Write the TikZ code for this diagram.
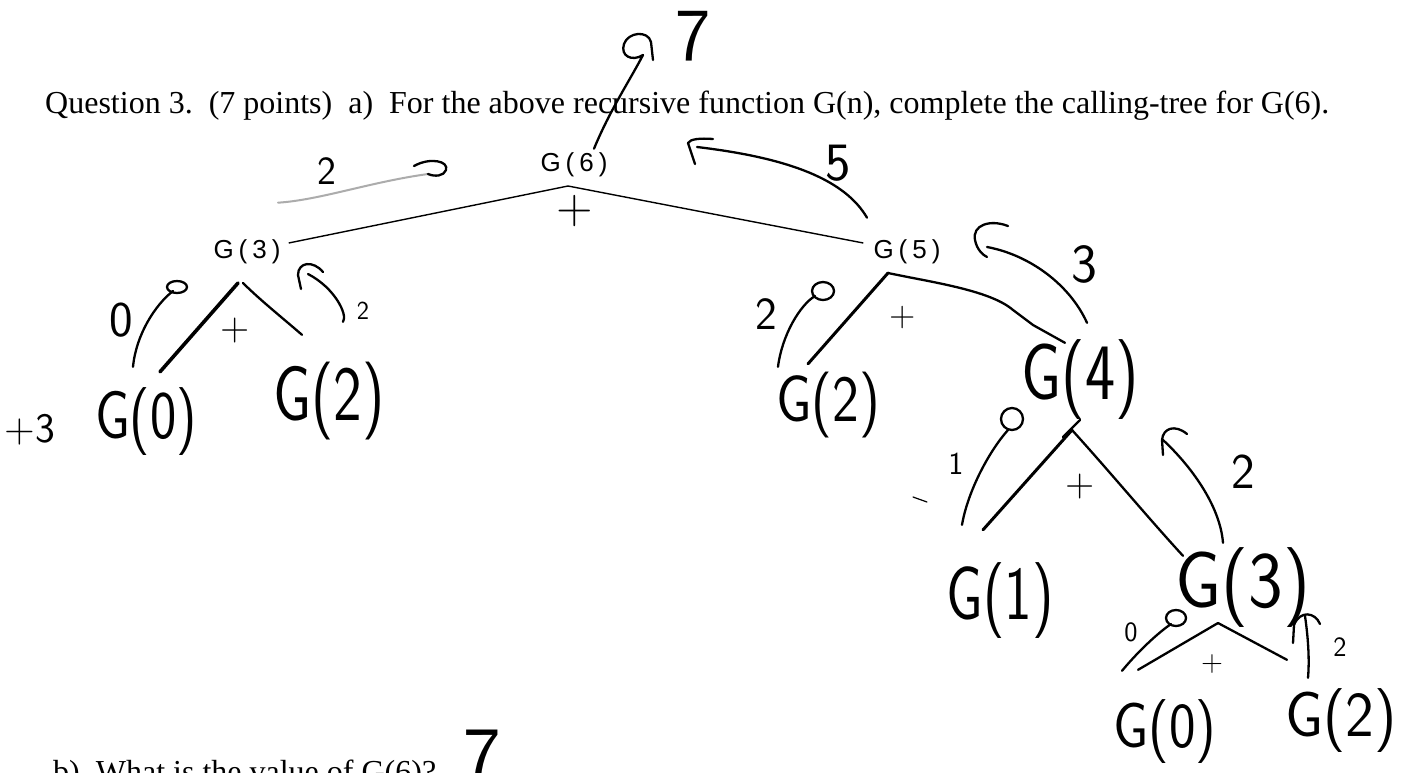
\documentclass[tikz,border=0pt]{standalone}
\usepackage{fontspec}
\setmainfont{Liberation Serif}
\newfontfamily\labfont{Liberation Sans}
\newcommand\hsz[1]{\fontsize{#1}{#1}\selectfont}
\newcommand\handw[3]{\scalebox{#2}[1]{\hsz{#1}#3}}
\newcommand\glab[1]{G\kern5pt(\kern5pt#1\kern5pt)}
\begin{document}
\begin{tikzpicture}[x=1pt,y=-1pt,
  hw/.style={inner sep=0pt, font=\sffamily},
  pl/.style={inner sep=0pt, font=\labfont\hsz{26}},
  ink/.style={line width=2.3pt, line cap=round, line join=round},
  thickink/.style={line width=3.6pt, line cap=round},
  prline/.style={line width=1.4pt},
  faint/.style={line width=2pt, gray!65, line cap=round},
  txt/.style={inner sep=0pt, anchor=base west, font=\hsz{32}}
]
\useasboundingbox (0,0) rectangle (1413,772);
\fill[white] (0,0) rectangle (1413,772);
\clip (0,0) rectangle (1413,772);

% printed text
\node[txt] (title) at (45,113) {Question 3.\ \ (7 points)\ \ a)\ \ For the above recursive function G(n), complete the calling-tree for G(6).};
\node[txt] (qb) at (53,782) {b)\ \ What is the value of G(6)?};

% printed tree
\node[pl] (g6) at (574,165) {\glab{6}};
\node[pl] (g3) at (247,252) {\glab{3}};
\node[pl] (g5) at (907,252) {\glab{5}};
\coordinate (t6) at (568,186);
\draw[prline] ([shift={(8,-9)}]g3.east) -- (t6) -- ([shift={(-10,-9)}]g5.west);

% handwritten labels
\node[hw] (h7) at (693,36) {\hsz{75}7};
\node[hw] (hp6) at (575,211) {\hsz{50}+};
\node[hw] (h2a) at (327,171) {\hsz{40}2};
\node[hw] (h5) at (838,163) {\hsz{54}5};
\node[hw] (h0a) at (121,320) {\hsz{50}0};
\node[hw] (hp3) at (235,331) {\hsz{40}+};
\node[hw] (h2b) at (363,311) {\hsz{26}2};
\node[hw] (hp3n) at (30,430) {\hsz{42}+3};
\node[hw] (G0a) at (146,422) {\handw{68}{0.82}{G(0)}};
\node[hw] (G2a) at (329,401) {\handw{78}{0.78}{G(2)}};
\node[hw] (h2c) at (766,314) {\hsz{46}2};
\node[hw] (hp5) at (903,318) {\hsz{36}+};
\node[hw] (h3) at (1084,264) {\hsz{55}3};
\node[hw] (G2m) at (828,405) {\handw{66}{0.86}{G(2)}};
\node[hw] (G4) at (1080,380) {\handw{80}{0.8}{G(4)}};
\node[hw] (h1) at (956,464) {\hsz{32}1};
\node[hw] (hp4) at (1080,487) {\hsz{40}+};
\node[hw] (h2d) at (1243,472) {\hsz{50}2};
\node[hw] (G1) at (1000,601) {\handw{76}{0.77}{G(1)}};
\node[hw] (G3) at (1243,588) {\handw{80}{0.92}{G(3)}};
\node[hw] (h0b) at (1131,632) {\hsz{28}0};
\node[hw] (hp3b) at (1212,664) {\hsz{30}+};
\node[hw] (h2e) at (1340,647) {\hsz{28}2};
\node[hw] (G0b) at (1165,732) {\handw{64}{0.88}{G(0)}};
\node[hw] (G2b) at (1341,721) {\handw{64}{0.95}{G(2)}};
\node[hw] (h7b) at (482,757) {\hsz{80}7};

% handwritten tree branches
\coordinate (t3) at (238,283);
\draw[thickink] (t3) -- ([shift={(14,-16)}]G0a.north);
\draw[ink] ([shift={(5,0)}]t3) .. controls (260,300) and (285,320) .. ([shift={(-27,-27)}]G2a.north);
\coordinate (t5) at (888,273);
\draw[thickink, line width=3pt] (t5) -- ([shift={(-20,-8)}]G2m.north);
\draw[ink] (t5) .. controls (930,282) and (990,290) .. (1013,310) -- (1033,325) -- ([shift={(-15,3)}]G4.north);
\coordinate (t4) at (1072,430);
\draw[thickink, line width=3pt] (t4) -- ([shift={(-17,-33)}]G1.north);
\draw[ink] (t4) .. controls (1110,472) and (1150,520) .. ([shift={(-60,8)}]G3.north);
\draw[ink] (1063,437) -- (1080,420);
\coordinate (t3b) at (1218,623);
\draw[ink] (t3b) -- ([shift={(-27,-30)}]G0b.north);
\draw[ink] (t3b) -- ([shift={(-54,-29)}]G2b.north);

% return-value arrows
\coordinate (r6) at (643,55);
\draw[ink] ([shift={(20,-4)}]g6.north) .. controls (610,110) and (630,80) .. (r6)
  .. controls (632,62) and (620,56) .. (624,44) .. controls (628,32) and (648,30) .. (651,42) -- (653,60);
\coordinate (r5) at (697,147);
\draw[ink] ([shift={(-40,-22)}]g5.north) .. controls (845,180) and (790,158) .. (r5);
\draw[ink] (713,139) .. controls (700,138) and (690,139) .. (688,143) -- (695,164);
\coordinate (r2a) at (428,174);
\draw[faint] ([shift={(31,-37)}]g3.north) .. controls (320,200) and (370,182) .. (r2a);
\draw[ink] (414,166) .. controls (430,157) and (449,161) .. (446,170) .. controls (444,176) and (435,177) .. (r2a);
\coordinate (r2b) at (308,274);
\draw[ink] ([shift={(14,-40)}]G2a.north) .. controls (348,315) and (335,288) .. (r2b);
\draw[ink] (323,272) .. controls (313,260) and (298,262) .. (298,275) -- (301,289);
\coordinate (r0a) at (173,291);
\draw[ink] ([shift={(-13,-21)}]G0a.north) .. controls (136,335) and (155,305) .. (r0a);
\draw[ink] (177,287) ellipse [x radius=10, y radius=6];
\coordinate (r2c) at (815,296);
\draw[ink] ([shift={(-50,-5)}]G2m.north) .. controls (782,335) and (800,305) .. (r2c);
\draw[ink] (823,291) ellipse [x radius=11, y radius=9];
\coordinate (r3) at (987,247);
\draw[ink] ([shift={(7,-17)}]G4.north) .. controls (1070,285) and (1030,255) .. (r3);
\draw[ink] (1008,226) .. controls (990,219) and (972,225) .. (975,240) .. controls (977,250) and (983,255) .. (987,257);
\coordinate (r1) at (1008,430);
\draw[ink] ([shift={(-38,-38)}]G1.north) .. controls (968,490) and (990,450) .. (r1);
\draw[ink] (1012,419) ellipse [x radius=11, y radius=11];
\coordinate (r2d) at (1163,440);
\draw[ink] ([shift={(-20,-5)}]G3.north) .. controls (1220,505) and (1190,465) .. (r2d);
\draw[ink] (1187,434) .. controls (1175,424) and (1163,428) .. (1162,440) -- (1163,455);
\coordinate (r0b) at (1171,624);
\draw[ink] ([shift={(-43,-29)}]G0b.north) .. controls (1135,655) and (1155,635) .. (r0b);
\draw[ink] (1176,618) ellipse [x radius=10, y radius=8];
\coordinate (r2e) at (1305,616);
\draw[ink] ([shift={(-33,-11)}]G2b.north) .. controls (1310,655) and (1307,630) .. (r2e);
\draw[ink] (1320,624) .. controls (1315,612) and (1300,610) .. (1294,625) -- (1293,643);
\draw[ink, line width=1.2pt] (913,497) -- (927,502);
\end{tikzpicture}
\end{document}
